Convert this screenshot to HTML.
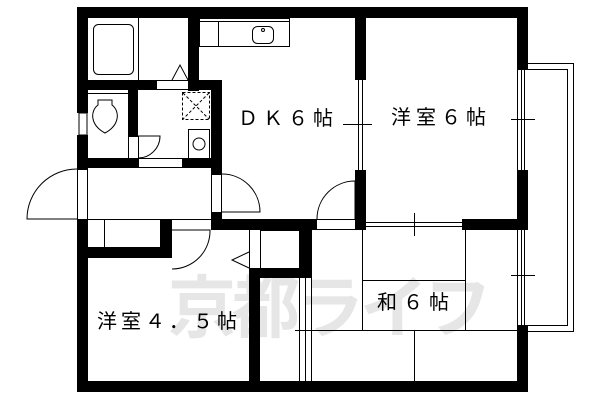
<!DOCTYPE html>
<html><head><meta charset="utf-8"><style>
html,body{margin:0;padding:0;background:#fff;width:600px;height:400px;overflow:hidden}
svg{display:block}
text{font-family:"Liberation Sans","Noto Sans CJK JP",sans-serif}
</style></head><body>
<svg width="600" height="400" viewBox="0 0 600 400" xmlns="http://www.w3.org/2000/svg">
<text x="168" y="332" font-size="68" fill="#e6e6e6" font-weight="bold" style="font-family:'Noto Sans CJK JP',sans-serif" letter-spacing="-4">京都ライフ</text>

<g fill="none" stroke="#000" stroke-width="1">
<rect x="517.5" y="63.5" width="56" height="268"/>
<rect x="517.5" y="69.5" width="50" height="256"/>
<line x1="521.5" y1="70" x2="521.5" y2="170"/><line x1="524.5" y1="70" x2="524.5" y2="170"/>
<line x1="521.5" y1="230" x2="521.5" y2="325"/><line x1="524.5" y1="230" x2="524.5" y2="325"/>
<line x1="511" y1="119.5" x2="535" y2="119.5"/><line x1="511" y1="275.5" x2="535" y2="275.5"/>
<line x1="358.5" y1="80" x2="358.5" y2="170"/><line x1="362.5" y1="80" x2="362.5" y2="170"/>
<line x1="343" y1="124.5" x2="372" y2="124.5"/>
<line x1="366" y1="222.5" x2="462" y2="222.5"/><line x1="366" y1="226.5" x2="462" y2="226.5"/>
<line x1="414.5" y1="213" x2="414.5" y2="236"/>
<line x1="311.5" y1="230" x2="311.5" y2="381"/>
<line x1="299.5" y1="268" x2="299.5" y2="381"/><line x1="305.5" y1="268" x2="305.5" y2="381"/>
<line x1="295" y1="330.5" x2="517" y2="330.5"/>
<line x1="362.5" y1="230" x2="362.5" y2="330"/><line x1="465.5" y1="230" x2="465.5" y2="330"/>
<line x1="362" y1="280.5" x2="465" y2="280.5"/>
<line x1="414.5" y1="331" x2="414.5" y2="381"/>
<rect x="93.5" y="24.5" width="40" height="50" rx="5"/>
<line x1="138.5" y1="18" x2="138.5" y2="80"/>
<polyline points="172,80 180,65 188,80"/>
<rect x="156.5" y="80.5" width="32" height="9"/>
<rect x="199.5" y="18.5" width="90" height="28"/>
<line x1="199" y1="21.5" x2="289" y2="21.5"/>
<line x1="218.5" y1="21" x2="218.5" y2="46"/>
<rect x="252.5" y="26.5" width="21" height="17" rx="5"/>
<circle cx="263" cy="30" r="1.5"/>
<line x1="88" y1="93.5" x2="128" y2="93.5"/>
<path d="M98 100 h14 v5 c8 6 8 20 -7 28 c-15 -8 -15 -22 -7 -28 z"/>
<rect x="182.5" y="92.5" width="27" height="27" stroke-dasharray="3,2"/>
<line x1="183" y1="93" x2="209" y2="119" stroke-dasharray="3,2"/>
<line x1="209" y1="93" x2="183" y2="119" stroke-dasharray="3,2"/>
<rect x="188.5" y="129.5" width="21" height="29"/>
<circle cx="199" cy="144" r="6"/>
<rect x="128.5" y="136.5" width="10" height="22"/>
<path d="M138 158 A22 22 0 0 0 160 136 L138 136"/>
<rect x="138.5" y="158.5" width="44" height="9"/>
<rect x="77.5" y="169.5" width="10" height="50"/>
<path d="M77 169 A50 50 0 0 0 27 219 L77 219"/>
<line x1="88" y1="219.5" x2="211" y2="219.5"/>
<rect x="211.5" y="174.5" width="10" height="38"/>
<path d="M222 174 A38 38 0 0 1 260 212 L222 212"/>
<path d="M317 219 A38 38 0 0 1 355 181 L355 219"/>
<line x1="317" y1="219.5" x2="355" y2="219.5"/><line x1="317" y1="229.5" x2="355" y2="229.5"/>
<line x1="104.5" y1="219" x2="104.5" y2="248"/>
<path d="M172 269 A38 38 0 0 0 210 230 L172 230"/>
<line x1="249.5" y1="230" x2="249.5" y2="268"/><line x1="260.5" y1="230" x2="260.5" y2="268"/>
<line x1="260" y1="230.5" x2="299" y2="230.5"/>
<polyline points="249,252 232,260 249,268"/>
</g>

<g fill="#000">
<rect x="77" y="7" width="451" height="11"/>
<rect x="77" y="7" width="11" height="106"/>
<rect x="77" y="135" width="11" height="34"/>
<rect x="77" y="219" width="11" height="173"/>
<rect x="77" y="381" width="451" height="11"/>
<rect x="517" y="7" width="11" height="63"/>
<rect x="517" y="170" width="11" height="60"/>
<rect x="517" y="325" width="11" height="67"/>
<rect x="188" y="7" width="11" height="84"/>
<rect x="88" y="80" width="68" height="10"/>
<rect x="188" y="80" width="34" height="10"/>
<rect x="211" y="80" width="11" height="94"/>
<rect x="211" y="212" width="11" height="18"/>
<rect x="128" y="90" width="10" height="46"/>
<rect x="77" y="158" width="61" height="10"/>
<rect x="182" y="158" width="40" height="10"/>
<rect x="355" y="7" width="11" height="73"/>
<rect x="355" y="170" width="11" height="60"/>
<rect x="211" y="219" width="106" height="11"/>
<rect x="462" y="219" width="66" height="11"/>
<rect x="160" y="219" width="12" height="39"/>
<rect x="88" y="247" width="84" height="11"/>
<rect x="299" y="230" width="12" height="40"/>
<rect x="249" y="268" width="62" height="10"/>
<rect x="249" y="268" width="11" height="124"/>
</g>
<g fill="#fff">
<rect x="79" y="113" width="8" height="22" stroke="#000" stroke-width="1"/>
</g>

<g font-size="20" fill="#000">
<text x="238" y="125" letter-spacing="5">ＤＫ６帖</text>
<text x="391" y="124" letter-spacing="5">洋室６帖</text>
<text x="97" y="328" letter-spacing="4">洋室４．５帖</text>
<text x="377" y="309" letter-spacing="6">和６帖</text>
</g>
</svg>
</body></html>
